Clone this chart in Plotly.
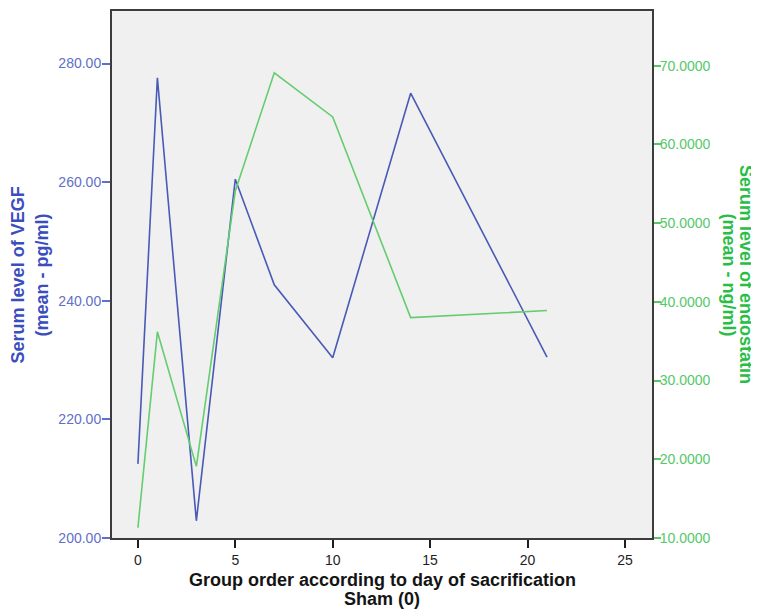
import plotly.graph_objects as go

days = [0, 1, 3, 5, 7, 10, 14, 21]
vegf = [212.5, 277.6, 202.9, 260.5, 242.7, 230.4, 275.0, 230.5]
endostatin = [11.3, 36.2, 19.1, 54.1, 69.1, 63.5, 38.0, 38.9]

x_ticks = [0, 5, 10, 15, 20, 25]
vegf_ticks = [200, 220, 240, 260, 280]
endo_ticks = [10, 20, 30, 40, 50, 60, 70]

x_title = ["Group order according to day of sacrification", "Sham (0)"]
y1_title = "Serum level of VEGF<br>(mean - pg/ml)"
y2_title = ["Serum level of endostatin", "(mean - ng/ml)"]

BLUE_LINE = "rgb(72,90,182)"
GREEN_LINE = "rgb(100,205,112)"
BLUE_TXT = "rgb(58,78,190)"
GREEN_TXT = "rgb(40,190,70)"
BLUE_TICK = "rgb(95,112,200)"
GREEN_TICK = "rgb(85,200,105)"
FRAME = "rgb(60,60,60)"
FONT = "Liberation Sans, Arial, sans-serif"


def bold_lines(t):
    return "<br>".join("<b>" + s + "</b>" for s in t.split("<br>"))


fig = go.Figure()
fig.add_trace(go.Scatter(x=days, y=vegf, mode="lines", yaxis="y",
                         line=dict(color=BLUE_LINE, width=1.6), showlegend=False))
fig.add_trace(go.Scatter(x=days, y=endostatin, mode="lines", yaxis="y2",
                         line=dict(color=GREEN_LINE, width=1.6), showlegend=False))

annotations = [
    dict(text=bold_lines(y1_title),
         xref="paper", yref="paper", x=-0.152, y=0.5, xanchor="center", yanchor="middle",
         textangle=-90, showarrow=False, font=dict(size=18, color=BLUE_TXT, family=FONT)),
]
for txt, yy in zip(x_title, [-0.0794, -0.1153]):
    annotations.append(dict(text="<b>" + txt + "</b>", xref="paper", yref="paper",
                            x=0.5, y=yy, xanchor="center", yanchor="middle",
                            showarrow=False,
                            font=dict(size=18, color="rgb(20,20,20)", family=FONT)))
for txt, xx in zip(y2_title, [1.175, 1.1426]):
    annotations.append(dict(text="<b>" + txt + "</b>", xref="paper", yref="paper",
                            x=xx, y=0.5, xanchor="center", yanchor="middle",
                            textangle=90, showarrow=False,
                            font=dict(size=18, color=GREEN_TXT, family=FONT)))

fig.update_layout(
    width=751, height=602,
    margin=dict(l=104, r=107, t=1, b=72),
    paper_bgcolor="white",
    plot_bgcolor="rgb(240,240,240)",
    font=dict(family=FONT, size=14, color="rgb(30,30,30)"),
    xaxis=dict(
        range=[-1.33, 26.39], tickvals=x_ticks, ticks="outside", ticklen=8,
        tickwidth=1.5, tickcolor="rgb(30,30,30)",
        showgrid=False, zeroline=False, showline=True, mirror=True,
        linecolor=FRAME, linewidth=2, tickfont=dict(size=14, color="rgb(30,30,30)"),
    ),
    yaxis=dict(
        range=[200, 288.86], tickvals=vegf_ticks, tickformat=".2f",
        ticks="outside", ticklen=8, tickwidth=1.5, tickcolor=BLUE_TICK,
        ticklabelstandoff=-2,
        showgrid=False, zeroline=False, showline=True, linecolor=FRAME, linewidth=2,
        tickfont=dict(size=14, color=BLUE_TICK),
    ),
    yaxis2=dict(
        range=[10, 76.96], tickvals=endo_ticks, tickformat=".4f",
        overlaying="y", side="right",
        ticks="outside", ticklen=7, tickwidth=1.5, tickcolor=GREEN_TICK,
        ticklabelstandoff=-4,
        showgrid=False, zeroline=False, showline=True, linecolor=FRAME, linewidth=2,
        tickfont=dict(size=14, color=GREEN_TICK),
    ),
    annotations=annotations,
)

fig.write_html("out.html")
